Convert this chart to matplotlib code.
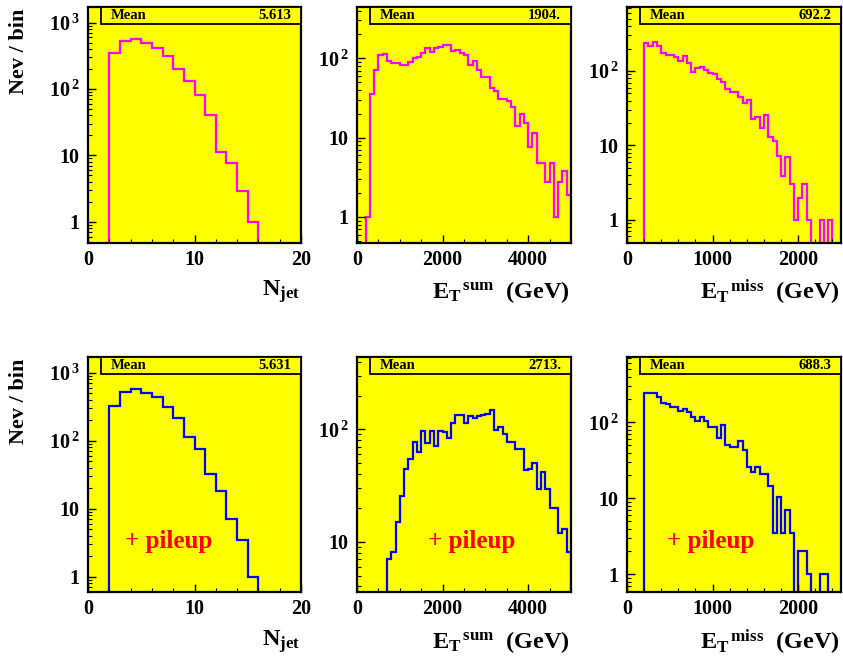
import numpy as np
import matplotlib
matplotlib.use("Agg")
import matplotlib.pyplot as plt
from matplotlib.ticker import MultipleLocator, LogLocator, NullFormatter
from matplotlib.patches import Rectangle

plt.rcParams['font.family'] = ['Liberation Serif', 'DejaVu Serif']
plt.rcParams['font.weight'] = 'bold'
plt.rcParams['mathtext.fontset'] = 'custom'
plt.rcParams['mathtext.rm'] = 'Liberation Serif:bold'
plt.rcParams['mathtext.it'] = 'Liberation Serif:bold'
plt.rcParams['mathtext.bf'] = 'Liberation Serif:bold'

# ---------------- data ----------------
njet_edges = np.arange(0, 21, 1)
njet_top = [0, 0, 345, 535, 565, 500, 410, 320, 203, 133, 81, 40.5, 11.4, 7.6, 2.9, 1, 0, 0, 0, 0]
njet_bot = [0, 0, 323, 520, 575, 508, 444, 309, 217, 112, 77, 32, 18.6, 7, 3.5, 1, 0, 0, 0, 0]

etsum_edges = np.arange(0, 5001, 100)
etsum_top = [0, 0, 1, 35, 71, 110, 113, 93, 88, 86, 82, 82, 90, 100, 103, 115, 134, 121, 136, 139,
             148, 146, 123, 127, 115, 110, 83, 93, 71, 58, 58, 42, 39, 31, 31, 29, 24.6, 14, 20, 15.2,
             7.7, 11.4, 4.8, 4.8, 2.8, 4.8, 1, 2.8, 3.8, 1.9]
etsum_bot = [0, 0, 0, 0, 0, 0, 0, 7.0, 8.15, 15.1, 25.7, 44.4, 54.5, 77.7, 63.3, 96.6, 75, 97, 71, 97,
             94, 83, 115, 134, 134, 113, 131, 125, 132, 135, 137, 149, 98.6, 106, 90, 76.5, 76.5, 66.4, 66.4, 43.4,
             44.4, 49.8, 29.3, 42, 29.3, 20, 20, 11.9, 13.1, 8.15]

etmiss_edges = np.arange(0, 2501, 50)
etmiss_top = [0, 0, 0, 0, 235, 218, 243, 218, 173, 164, 164, 155, 136, 161, 127, 98, 109, 112, 103, 93,
              91, 78, 72, 57, 52, 52, 45, 37.6, 40.8, 23, 24, 17, 25.7, 12.9, 11.6, 7.2, 3.9, 6.9, 3, 1,
              2, 3, 1, 0, 0, 1, 0, 1, 0, 0]
etmiss_bot = [0, 0, 0, 0, 245, 245, 240, 218, 181, 172, 157, 157, 142, 151, 138, 119, 105, 119, 105, 86,
              86, 61.5, 92, 50, 48, 48, 57.5, 43, 26, 22.4, 26, 21, 21, 14.5, 3.5, 10.5, 3.5, 7, 3.5, 0,
              2, 2, 1, 0, 0, 1, 1, 0, 0, 0]

means = ["5.613", "1904.", "692.2", "5.631", "2713.", "688.3"]
pileup_label = "+ pileup"
ylabel_text = "Nev / bin"
xlabels = [r"$N_{jet}$", r"${E_{T}}^{\,sum}$  (GeV)", r"${E_{T}}^{\,miss}$  (GeV)"]

# ---------------- layout ----------------
W, H = 843, 667
fig = plt.figure(figsize=(W / 100, H / 100), dpi=100)
fig.patch.set_facecolor('white')

cols = [(88, 301), (357, 571), (627, 841)]
rows = [(6.7, 243), (356.7, 592)]

panels = [
    (0, 0, njet_edges, njet_top, '#ff00ff', (0.48, 1740), (0, 20), 10, 2, [1, 10, 100, 1000], None),
    (0, 1, etsum_edges, etsum_top, '#ff00ff', (0.47, 447), (0, 5000), 2000, 500, [1, 10, 100], None),
    (0, 2, etmiss_edges, etmiss_top, '#ff00ff', (0.49, 730), (0, 2500), 1000, 200, [1, 10, 100], None),
    (1, 0, njet_edges, njet_bot, '#0000ff', (0.60, 1720), (0, 20), 10, 2, [1, 10, 100, 1000], 0.174),
    (1, 1, etsum_edges, etsum_bot, '#0000ff', (3.57, 443), (0, 5000), 2000, 500, [10, 100], 0.33),
    (1, 2, etmiss_edges, etmiss_bot, '#0000ff', (0.585, 730), (0, 2500), 1000, 200, [1, 10, 100], 0.187),
]

ylab = {1: '1', 10: '10', 100: r'$10^{\,2}$', 1000: r'$10^{\,3}$'}

for k, (r, c, edges, vals, color, ylim, xlim, xmaj, xmin, yt, px) in enumerate(panels):
    x0, x1 = cols[c]
    y0, y1 = rows[r]
    ax = fig.add_axes([x0 / W, 1 - y1 / H, (x1 - x0) / W, (y1 - y0) / H])
    ax.set_facecolor('#ffff00')
    v = np.asarray(vals, dtype=float)
    vplot = np.where(v > 0, v, 1e-3)
    ax.stairs(vplot, edges, color=color, linewidth=1.6, baseline=1e-3)
    ax.set_yscale('log')
    ax.set_ylim(*ylim)
    ax.set_xlim(*xlim)
    for s in ax.spines.values():
        s.set_linewidth(1.6)
        s.set_color('black')
    ax.xaxis.set_major_locator(MultipleLocator(xmaj))
    ax.xaxis.set_minor_locator(MultipleLocator(xmin))
    ax.set_yticks(yt, [ylab[t] for t in yt])
    ax.yaxis.set_minor_locator(LogLocator(base=10, subs=np.arange(2, 10)))
    ax.yaxis.set_minor_formatter(NullFormatter())
    ax.tick_params(axis='both', which='major', direction='in', length=6, width=1.0,
                   labelsize=14.5, top=False, right=False)
    ax.tick_params(axis='both', which='minor', direction='in', length=3, width=0.8,
                   top=False, right=False)
    ax.tick_params(axis='x', which='major', pad=5)
    ax.tick_params(axis='y', which='major', pad=6)
    for lab in ax.get_xticklabels() + ax.get_yticklabels():
        lab.set_fontweight('bold')

    # stat box
    bh = 17.6 / (y1 - y0)
    bl = 12.5 / (x1 - x0)
    ax.add_patch(Rectangle((bl, 1 - bh), 1 - bl, bh, transform=ax.transAxes,
                           facecolor='#ffff00', edgecolor='black', linewidth=1.3,
                           clip_on=False, zorder=5))
    ax.text(bl + 10.5 / (x1 - x0), 1 - bh / 2, "Mean", transform=ax.transAxes,
            ha='left', va='center', fontsize=10.5, fontweight='bold', zorder=6)
    ax.text(1 - 10 / (x1 - x0), 1 - bh / 2, means[k], transform=ax.transAxes,
            ha='right', va='center', fontsize=10.5, fontweight='bold', zorder=6)

    if px is not None:
        ax.text(px, 0.215, pileup_label, transform=ax.transAxes, color='#ff0000',
                fontsize=18, fontweight='bold', ha='left', va='center')

    # x label
    xl_y = 292 if r == 0 else 642
    fig.text((x1 - 1) / W, 1 - xl_y / H, xlabels[c], ha='right', va='center',
             fontsize=17.5, fontweight='bold')

for yc in (51, 401):
    fig.text(19 / W, 1 - yc / H, ylabel_text, rotation=90, ha='center', va='center',
             fontsize=16, fontweight='bold')

fig.savefig('out.png', dpi=100)
